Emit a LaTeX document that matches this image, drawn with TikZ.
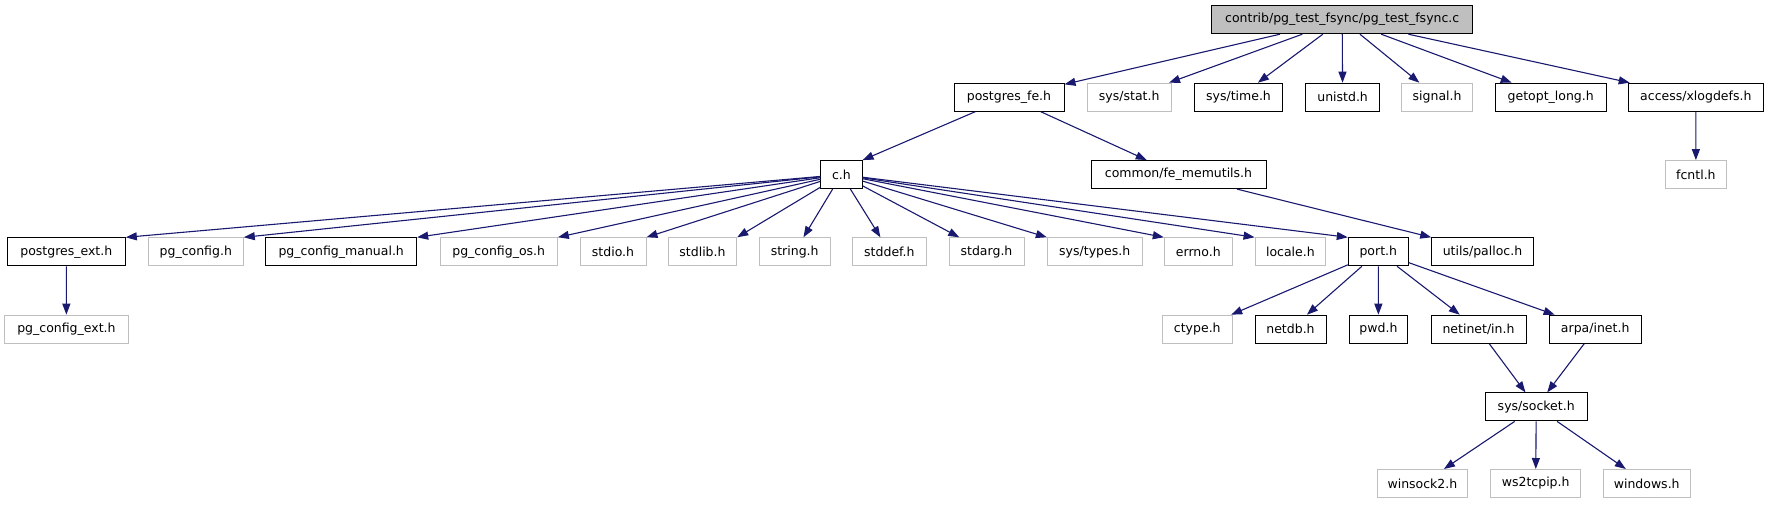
\documentclass[tikz,border=0pt]{standalone}
\usepackage{fontspec}
\setmainfont{DejaVu Sans}
\usetikzlibrary{arrows.meta}
\definecolor{edgeblue}{HTML}{191970}
\definecolor{greyline}{HTML}{BFBFBF}
\tikzset{
  box/.style={rectangle, draw=black, line width=1pt, inner sep=0pt, minimum height=28pt, font=\fontsize{12.5}{15}\selectfont, text=black},
  gbox/.style={box, draw=greyline},
  rootbox/.style={box, fill=greyline},
  dep/.style={draw=edgeblue, line width=1.1pt, -{Triangle[length=11pt,width=8pt]}}
}
\begin{document}
\begin{tikzpicture}[x=1pt,y=-1pt]
\useasboundingbox[fill=white] (0,0) rectangle (1768,504);
% row 1
\node[rootbox, minimum width=261pt] (root) at (1342.2,19.7) {contrib/pg\_test\_fsync/pg\_test\_fsync.c};
% row 2
\node[box,  minimum width=110pt]   (pfe)     at (1009,97.2)   {postgres\_fe.h};
\node[gbox, minimum width=83.7pt]  (sysstat) at (1129.2,97.2) {sys/stat.h};
\node[box,  minimum width=88.4pt]  (systime) at (1238.5,97.2) {sys/time.h};
\node[box,  minimum width=73.5pt]  (unistd)  at (1342.6,97.2) {unistd.h};
\node[gbox, minimum width=70.8pt]  (signal)  at (1437.1,97.2) {signal.h};
\node[box,  minimum width=110.7pt] (getopt)  at (1550.7,97.2) {getopt\_long.h};
\node[box,  minimum width=135pt]   (xlog)    at (1695.8,97.2) {access/xlogdefs.h};
% row 3
\node[box,  minimum width=41.3pt]  (ch)      at (841.4,174.6)  {c.h};
\node[box,  minimum width=175pt]   (femem)   at (1178.5,174.6) {common/fe\_memutils.h};
\node[gbox, minimum width=61.7pt]  (fcntl)   at (1695.9,174.6) {fcntl.h};
% row 4
\node[box,  minimum width=118pt]   (pext)    at (66.3,251.8)   {postgres\_ext.h};
\node[gbox, minimum width=95pt]    (pgconf)  at (195.8,251.8)  {pg\_config.h};
\node[box,  minimum width=151pt]   (pgman)   at (341.2,251.8)  {pg\_config\_manual.h};
\node[gbox, minimum width=117.3pt] (pgos)    at (498.7,251.8)  {pg\_config\_os.h};
\node[gbox, minimum width=66pt]    (stdio)   at (613,251.8)    {stdio.h};
\node[gbox, minimum width=68.4pt]  (stdlib)  at (702.5,251.8)  {stdlib.h};
\node[gbox, minimum width=70.7pt]  (string)  at (794.7,251.8)  {string.h};
\node[gbox, minimum width=73.3pt]  (stddef)  at (889.4,251.8)  {stddef.h};
\node[gbox, minimum width=75pt]    (stdarg)  at (986.5,251.8)  {stdarg.h};
\node[gbox, minimum width=94.7pt]  (systypes) at (1094.7,251.8) {sys/types.h};
\node[gbox, minimum width=68pt]    (errno)   at (1198.3,251.8) {errno.h};
\node[gbox, minimum width=70.7pt]  (locale)  at (1290.4,251.8) {locale.h};
\node[box,  minimum width=60pt]    (port)    at (1378.3,251.8) {port.h};
\node[box,  minimum width=101.6pt] (palloc)  at (1482.5,251.8) {utils/palloc.h};
% row 5
\node[gbox, minimum width=123.3pt] (pgext)   at (66.4,329.2)   {pg\_config\_ext.h};
\node[gbox, minimum width=70pt]    (ctype)   at (1197.3,329.2) {ctype.h};
\node[box,  minimum width=71pt]    (netdb)   at (1290.5,329.2) {netdb.h};
\node[box,  minimum width=58.7pt]  (pwd)     at (1378.4,329.2) {pwd.h};
\node[box,  minimum width=95pt]    (netinet) at (1478.5,329.2) {netinet/in.h};
\node[box,  minimum width=91.7pt]  (arpa)    at (1595.2,329.2) {arpa/inet.h};
% row 6
\node[box,  minimum width=102.3pt] (socket)  at (1536.2,406.9) {sys/socket.h};
% row 7
\node[gbox, minimum width=90.7pt]  (winsock) at (1422.4,483.5) {winsock2.h};
\node[gbox, minimum width=90pt]    (ws2)     at (1535.7,483.5) {ws2tcpip.h};
\node[gbox, minimum width=86.7pt]  (windows) at (1646.7,483.5) {windows.h};
% edges
\foreach \t in {pfe,sysstat,systime,unistd,signal,getopt,xlog} \draw[dep] (root) -- (\t);
\draw[dep] (pfe) -- (ch.north east);
\draw[dep] (pfe) -- (femem);
\draw[dep] (xlog) -- (fcntl);
\foreach \t in {pext,pgconf,pgman,pgos,stdio,stdlib} \draw[dep] (ch) -- (\t.north east);
\foreach \t in {string,stddef,stdarg} \draw[dep] (ch) -- (\t);
\foreach \t in {systypes,errno,locale,port} \draw[dep] (ch) -- (\t.north west);
\draw[dep] (femem) -- (palloc.north west);
\draw[dep] (pext) -- (pgext);
\foreach \t in {ctype,netdb,pwd,netinet,arpa} \draw[dep] (port) -- (\t);
\draw[dep] (netinet) -- (socket);
\draw[dep] (arpa) -- (socket);
\foreach \t in {winsock,ws2,windows} \draw[dep] (socket) -- (\t);
\end{tikzpicture}
\end{document}
